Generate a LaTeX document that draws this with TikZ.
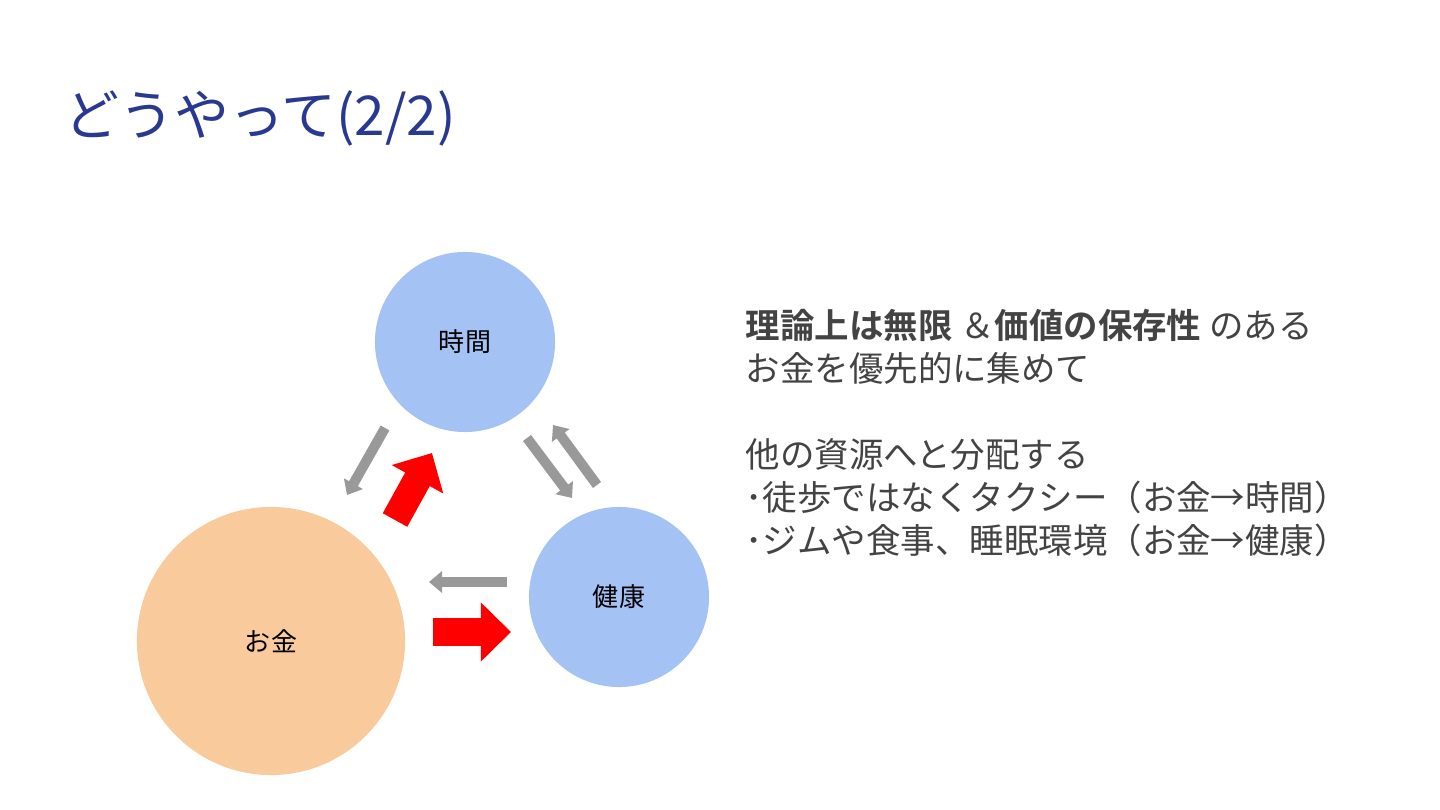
\documentclass[tikz,border=0pt]{standalone}
\usepackage{fontspec}
\setmainfont{Noto Sans CJK JP}[BoldFont={Noto Sans CJK JP Bold}]
\usepackage{xcolor}
\definecolor{titleblue}{RGB}{42,57,144}
\definecolor{textgray}{RGB}{67,67,67}
\definecolor{resblue}{RGB}{164,194,244}
\definecolor{resorange}{RGB}{249,203,156}
\definecolor{flowgray}{RGB}{153,153,153}
\definecolor{flowred}{RGB}{255,0,0}
\usetikzlibrary{arrows.meta, positioning}

\tikzset{
  rescircle/.style={circle, inner sep=0pt, font=\fontsize{7.4}{9}\selectfont, text=black},
  grayflow/.style={draw=flowgray, line width=0.1cm, -{Triangle[length=0.13cm, width=0.21cm]}},
  redflow/.style={draw=flowred, line width=0.28cm, -{Triangle[length=0.3cm, width=0.57cm]}},
}

\begin{document}
\begin{tikzpicture}[x=0.01cm, y=-0.01cm]
  \useasboundingbox (0,0) rectangle (1440,810);

  % Title
  \node[anchor=west, inner sep=0pt, text=titleblue, font=\fontsize{15.6}{18}\selectfont] (title) at (64,118) {どうやって(2/2)};

  % Resources
  \node[rescircle, fill=resblue, minimum size=1.8cm] (jikan) at (465,342) {時間};
  \node[rescircle, fill=resblue, minimum size=1.8cm] (kenko) at (619,597) {健康};
  \node[rescircle, fill=resorange, minimum size=2.68cm] (okane) at (271,641) {お金};

  % Arrow ends
  \coordinate (jo1) at (385,428);  \coordinate (jo2) at (347,495);
  \coordinate (oj1) at (395,520);  \coordinate (oj2) at (432,453);
  \coordinate (jk1) at (527,438);  \coordinate (jk2) at (572,498);
  \coordinate (kj1) at (597,485);  \coordinate (kj2) at (553,425);
  \coordinate (ko1) at (507,582);  \coordinate (ko2) at (429,582);
  \coordinate (ok1) at (433,632);  \coordinate (ok2) at (511,632);

  % Flows
  \draw[grayflow] (jo1) -- (jo2);
  \draw[redflow] (oj1) -- (oj2);
  \draw[grayflow] (jk1) -- (jk2);
  \draw[grayflow] (kj1) -- (kj2);
  \draw[grayflow] (ko1) -- (ko2);
  \draw[redflow] (ok1) -- (ok2);

  % Explanation
  \node[anchor=north west, inner sep=0pt, align=left, text=textgray,
        font=\fontsize{9.8}{12.2}\selectfont] (note) at (745,309)
    {\textbf{理論上は無限} ＆\textbf{価値の保存性} のある\\
     お金を優先的に集めて\\[12.2pt]
     他の資源へと分配する\\
     ･徒歩ではなくタクシー（お金→時間）\\
     ･ジムや食事、睡眠環境（お金→健康）};
\end{tikzpicture}
\end{document}
